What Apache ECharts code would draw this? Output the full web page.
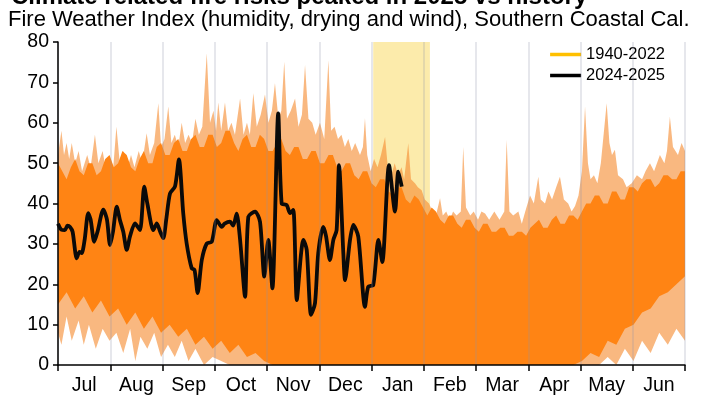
<!DOCTYPE html>
<html>
<head>
<meta charset="utf-8">
<script src="https://cdn.jsdelivr.net/npm/echarts@6/dist/echarts.min.js"></script>
<style>
html,body{margin:0;padding:0;background:#fff;}
#c{width:715px;height:407px;}
</style>
</head>
<body>
<div id="c"></div>
<script>
// ---- data ----
const months = ['Jul','Aug','Sep','Oct','Nov','Dec','Jan','Feb','Mar','Apr','May','Jun'];
const yTicks = [0,10,20,30,40,50,60,70,80];
// highlighted window (day of season, Jul 1 = 0)
const bandRange = [183.5, 216.5];

// 2024-2025 black line: day of season, FWI value
const blackDays = [0,2,4,5.5,7,8.5,10.9,12.5,13.8,15.5,17.6,19,21.1,23,26.4,28.5,30.3,32,34.2,36,38,40,42,44.8,47.7,50.2,52,55.5,57.5,59.5,61.3,63,65.2,68.1,70.4,72.9,74.9,77.8,79.5,81.3,83.7,86.6,89.5,92.4,95.3,97,100.1,102,104,106,108.9,110.8,114.7,117.6,120.1,122.4,124.8,128.2,130.2,133.1,135.1,137,139,141.5,142.8,144.8,147.3,149.6,151.5,154.4,156,158.3,160.3,162.2,163.6,166.1,167.1,170,171.9,174.8,178.7,180.6,183.5,186.5,188.8,192.7,196.2,198.1,200.1];
const blackVals = [35,33.5,33.4,34.5,34.2,33,26.4,28,27.7,31,37.6,36,30.5,33,38.5,36,29.7,33,39.2,36,33,28.5,32,35.1,33.4,44.2,40,33.4,35.1,33,31.4,36,42.5,44.2,50.9,37.6,30.1,24,23.5,17.8,26,30.1,30.5,35.9,34.2,35,35.5,34.5,37.5,31,16.9,36.7,38,35.5,21.9,31,19,62.3,40,39.6,37.6,38.4,16.1,27.6,31,28.5,12.4,15.3,27.7,34.2,32,26,31,33.4,49.5,27.7,21,31,34.7,31.8,14.4,19.4,19.8,31,25.5,49.5,38,47.9,44.2];

// 1940-2022: outer (sparse) upper envelope
const paleHighDays = [0,2,3.5,5,6.5,8,10,12,14,17,19,21.5,23.5,26,28,30,32,34,36,38,40,42.5,44.5,47,49,51.6,53.5,56,58.4,60,62,64.2,66,68,70,72,74,76,78,80,82,84,86.6,88.5,90.5,92,93.3,95,97.2,99,101,103,106,108,110,111.7,113.7,115.7,118,120.5,122.5,124.5,126.3,128.3,130,131.7,133.3,135.5,138,140,142,143.8,145.8,148,150,152.5,155,157.4,159,161,163,165,167,169,171,173,175.8,177.5,178.7,180,182,184,186,188,190.4,192,194,196,198,200,201.5,203.9,205.5,207.8,209.5,211.7,213.5,216,218,220,222.4,224,226,228,230,232,234.5,235.9,237.5,240,242,244.5,246.5,248.6,251,254,257,259.8,261.2,262.8,265,268,270,272,274.8,277,279.6,281,283.5,285.5,287.6,290,292.2,294.5,297,299,301,303,305,306.8,308.5,310,312,314,316,319.4,321,322.5,324.2,326,328.9,331,334,337,340,342,344.6,347,350.4,353,354.5,356.2,358,360.9,363,365];
const paleHigh = [52,58,52,55,51,55,50,53,48,52,49,57,50,53,48,50,48,59,50,53,48,52,49,53,50,57.4,52,55,64.8,54,56,64,55,57,54,60,55,57,55,61,57,59,77.2,60,63,58,65,58,65,58,60,57,66,57,60,57,67.3,59,62,67,60,63,69.8,61,63,75.1,61,63,66,59,62,74.3,61,60,57,60,56,75.5,58,59,56,57,54,56,53,55,52,54,61.1,52,48,51,49,52,56.5,49,47,50,47,49,46,54.9,46,45,44,43.3,41,40,38,37,41.3,37,38,36,38,37,38,54,39,37,38,36,38,37.5,36,38,36,38,55.7,38,37,38,35,38,42,40,46.6,41,40,43,41,44,46.6,41,40,38,39.4,42,48,64,50,46,47,45,50,64.8,55,52,53.3,47,46,44,45,47,46,48,50,48,52,50,53,61.5,54,52,55,53];
// 1940-2022: dense (core) upper edge
const denseHighDays = [0,2.5,5,7.5,10,12.5,15,17.5,20,22.5,25,27.5,30,32.5,35,37.5,40,42.5,45,47.5,50,52.5,55,57.5,60,62.5,65,67.5,70,72.5,75,77.5,80,82.5,85,87.5,90,92.5,95,97.5,100,102.5,105,107.5,110,112.5,115,117.5,120,122.5,125,127.5,130,132.5,135,137.5,140,142.5,145,147.5,150,152.5,155,157.5,160,162.5,165,167.5,170,172.5,175,177.5,180,182.5,185,187.5,190,192.5,195,197.5,200,202.5,205,207.5,210,212.5,215,217.5,220,222.5,225,227.5,230,232.5,235,237.5,240,242.5,245,247.5,250,252.5,255,257.5,260,262.5,265,267.5,270,272.5,275,277.5,280,282.5,285,287.5,290,292.5,295,297.5,300,302.5,305,307.5,310,312.5,315,317.5,320,322.5,325,327.5,330,332.5,335,337.5,340,342.5,345,347.5,350,352.5,355,357.5,360,362.5,365];
const denseHigh = [50,48,46,49,51,48,47,50,50,47,48,51,52,49,50,53,52,49,48,51,53,50,50,54,55,52,52,55,56,53,53,56,57,54,54,57,57,54,55,58,58,55,53,56,57,54,54,57,56,53,53,55,56,53,52,54,54,51,51,53,53,50,50,52,52,49,48,50,50,47,46,48,48,45,44,46,46,43,42,44,44,41,40,42,41,39,37,39,38,36,35,37,37,35,34,36,36,34,33,35,35,33,33,34,34,32,32,33,33,32,34,35,36,34,34,36,37,35,35,37,37,36,38,40,40,42,42,40,40,43,43,41,41,44,44,43,45,46,46,44,45,47,47,46,46,48,48,47,48];
// 1940-2022: dense (core) lower edge
const denseLowDays = [0,5,10,15,20,25,30,35,40,45,50,55,60,65,70,75,80,85,90,95,100,105,110,115,120,125,300,305,310,315,320,325,330,335,340,345,350,355,360,365];
const denseLow = [15,18,14,17,13,16,12,14,10,13,9,12,8,10,7,9,5,7,4,6,3,5,2,3,1,0,0,1,3,2,6,5,9,10,13,14,17,18,20,22];
// 1940-2022: outer (sparse) lower envelope
const paleLowDays = [0,2,5,8,12,15,18,22,26,30,34,38,42,45,48,52,56,60,64,68,72,76,80,85,90,95,100,315,320,325,330,335,340,345,350,355,360,365];
const paleLow = [8,5,12,6,11,5,10,4,9,6,8,3,9,1,7,4,8,2,5,2,6,1,4,0,2,1,0,0,2,0,4,1,6,3,8,5,9,6];

const zip = (a, b) => a.map((d, i) => [d, b[i]]);

const FONT = '"Liberation Sans", Arial, sans-serif';
const ORANGE = '#FF8414';
const PALE = 'rgba(245,140,50,0.62)';
const PALE_SOLID = '#F9B880';

const chart = echarts.init(document.getElementById('c'), null, {renderer: 'canvas'});

function areaSeries(name, data, color, z) {
  return {
    name: name, type: 'line', xAxisIndex: 1, data: data,
    showSymbol: false, symbol: 'none', silent: true, z: z,
    lineStyle: {width: 0, opacity: 0},
    areaStyle: {color: color, opacity: 1, origin: 'start'}
  };
}

chart.setOption({
  animation: false,
  backgroundColor: '#fff',
  textStyle: {fontFamily: FONT},
  title: [
    {text: 'Climate related fire risks peaked in 2025 vs history', left: 6, top: -20,
     textStyle: {fontFamily: FONT, fontSize: 24, fontWeight: 'bold', color: '#000'}},
    {text: 'Fire Weather Index (humidity, drying and wind), Southern Coastal Cal.', left: 3, top: 4,
     textStyle: {fontFamily: FONT, fontSize: 22, fontWeight: 'normal', color: '#000'}}
  ],
  legend: {
    data: ['1940-2022', '2024-2025'],
    orient: 'vertical', right: 45, top: 41,
    icon: 'rect', itemWidth: 31, itemHeight: 3.5, itemGap: 4,
    textStyle: {fontFamily: FONT, fontSize: 16.5, color: '#000'}
  },
  grid: {left: 58, right: 30, top: 42, bottom: 42, containLabel: false},
  xAxis: [
    {
      type: 'category', data: months, boundaryGap: true, z: 10,
      axisLine: {show: true, lineStyle: {color: '#000', width: 1.5}},
      axisTick: {show: true, interval: 0, length: 6, lineStyle: {color: '#000', width: 1.5}},
      axisLabel: {interval: 0, fontFamily: FONT, fontSize: 19.5, color: '#000', margin: 11},
      splitLine: {show: true, interval: 0, lineStyle: {color: 'rgba(140,145,170,0.22)', width: 2}}
    },
    {type: 'value', min: 0, max: 365, show: false}
  ],
  yAxis: {
    type: 'value', min: yTicks[0], max: yTicks[yTicks.length - 1], interval: 10, z: 10,
    axisLine: {show: true, lineStyle: {color: '#000', width: 1.5}},
    axisTick: {show: true, length: 5, lineStyle: {color: '#000', width: 1.5}},
    axisLabel: {fontFamily: FONT, fontSize: 19.5, color: '#000', margin: 9},
    splitLine: {show: false}
  },
  series: [
    {
      name: 'band', type: 'line', xAxisIndex: 1, data: [[bandRange[0], 0], [bandRange[1], 0]],
      symbol: 'none', silent: true, z: 1, lineStyle: {opacity: 0},
      markArea: {silent: true, itemStyle: {color: 'rgba(250,222,120,0.62)'},
        data: [[{xAxis: bandRange[0]}, {xAxis: bandRange[1]}]]}
    },
    areaSeries('paleHigh', zip(paleHighDays, paleHigh), PALE, 2),
    areaSeries('denseHigh', zip(denseHighDays, denseHigh), ORANGE, 3),
    areaSeries('denseLow', zip(denseLowDays, denseLow), PALE_SOLID, 4),
    areaSeries('paleLow', zip(paleLowDays, paleLow), '#FFFFFF', 5),
    {
      name: '1940-2022', type: 'line', xAxisIndex: 1, data: [], symbol: 'none',
      itemStyle: {color: '#FFC000'}, lineStyle: {color: '#FFC000'}
    },
    {
      name: '2024-2025', type: 'line', xAxisIndex: 1, data: zip(blackDays, blackVals),
      showSymbol: false, symbol: 'none', smooth: 0.25, z: 8,
      itemStyle: {color: '#000'},
      lineStyle: {color: '#0a0a0a', width: 3.8, join: 'round'}
    }
  ]
});
</script>
</body>
</html>
